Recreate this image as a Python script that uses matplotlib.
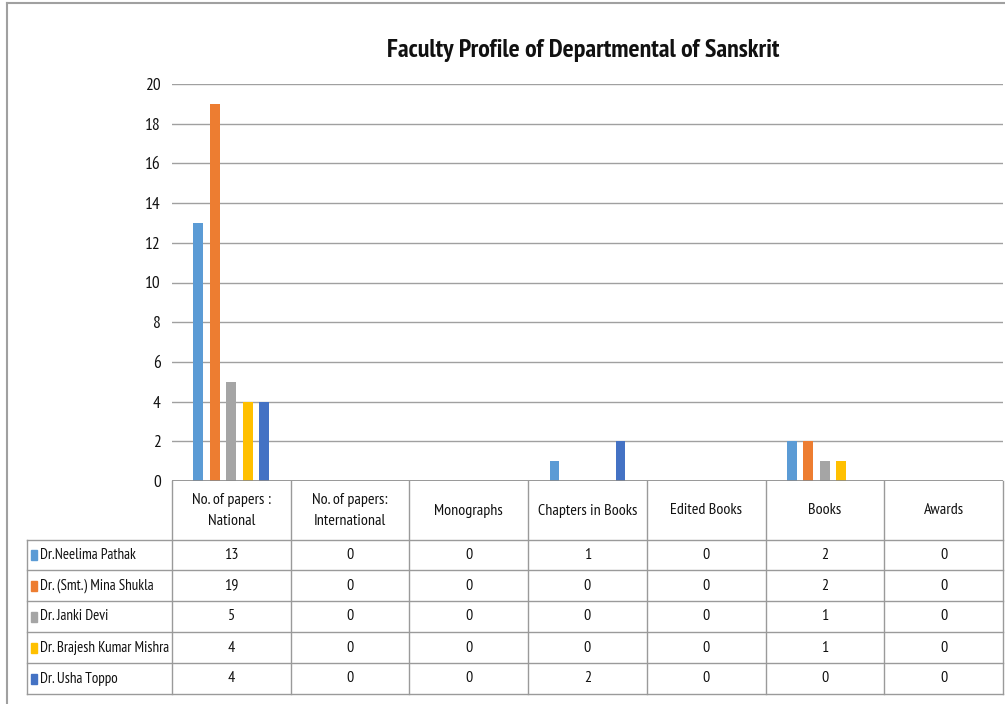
import matplotlib
matplotlib.use("Agg")
import matplotlib.pyplot as plt
import numpy as np
import logging
logging.getLogger('matplotlib.font_manager').setLevel(logging.ERROR)

categories = ["No. of papers :\nNational", "No. of papers:\nInternational", "Monographs",
              "Chapters in Books", "Edited Books", "Books", "Awards"]
series_names = ["Dr.Neelima Pathak", "Dr. (Smt.) Mina Shukla", "Dr. Janki Devi",
                "Dr. Brajesh Kumar Mishra", "Dr. Usha Toppo"]
neelima = [13, 0, 0, 1, 0, 2, 0]
mina = [19, 0, 0, 0, 0, 2, 0]
janki = [5, 0, 0, 0, 0, 1, 0]
brajesh = [4, 0, 0, 0, 0, 1, 0]
usha = [4, 0, 0, 2, 0, 0, 0]
series_values = [neelima, mina, janki, brajesh, usha]
colors = ["#5B9BD5", "#ED7D31", "#A5A5A5", "#FFC000", "#4472C4"]
yticks = [0, 2, 4, 6, 8, 10, 12, 14, 16, 18, 20]
title = "Faculty Profile of Departmental of Sanskrit"

FONT = ["PT Sans Narrow", "Archivo Narrow", "Roboto Condensed", "Open Sans Condensed", "DejaVu Sans"]
plt.rcParams['font.family'] = FONT

W, H = 1005, 704
fig = plt.figure(figsize=(W / 100, H / 100), dpi=100)

# pixel geometry
ax_l, ax_r, ax_t, ax_b = 172, 1003, 84, 481
ax = fig.add_axes([ax_l / W, 1 - ax_b / H, (ax_r - ax_l) / W, (ax_b - ax_t) / H])
n = len(categories)
x = np.arange(n)
bw = 0.084
step = 0.139
for i, (vals, c) in enumerate(zip(series_values, colors)):
    ax.bar(x + (i - 2) * step, vals, width=bw, color=c, zorder=3)
ax.set_xlim(-0.5, n - 0.5)
ax.set_ylim(0, 20)
ax.set_yticks(yticks)
ax.set_yticklabels([str(t) for t in yticks], fontsize=12.5, color="#111111")
ax.set_xticks([])
for s in ax.spines.values():
    s.set_visible(False)
ax.yaxis.grid(True, color="#a0a0a0", linewidth=1, zorder=0)
ax.tick_params(axis='y', length=0, pad=8)
ax.axhline(0, color="#8a8a8a", linewidth=1.2, zorder=4)

fig.text(583 / W, 1 - 50 / H, title, ha='center', va='center', fontsize=18.7,
         fontweight='bold', color="#111111")

# overlay for table
ov = fig.add_axes([0, 0, 1, 1], zorder=5)
ov.set_xlim(0, W)
ov.set_ylim(H, 0)
ov.axis('off')
ov.patch.set_alpha(0)

lc = "#9a9a9a"
# outer border of chart area
ov.plot([7, 1005], [3, 3], color="#a0a0a0", lw=1.5)
ov.plot([7, 7], [3, 704], color="#a0a0a0", lw=1.5)

col_edges = np.linspace(ax_l, ax_r, n + 1)
row_edges = [481, 540, 570, 601, 632, 663, 694]
tab_l = 27
for xe in col_edges:
    ov.plot([xe, xe], [481, 694], color=lc, lw=1)
ov.plot([tab_l, tab_l], [540, 694], color=lc, lw=1)
for ye in row_edges[1:]:
    ov.plot([tab_l, ax_r], [ye, ye], color=lc, lw=1)

centers = (col_edges[:-1] + col_edges[1:]) / 2
for j, cat in enumerate(categories):
    ov.text(centers[j], (row_edges[0] + row_edges[1]) / 2, cat, ha='center', va='center',
            fontsize=11.5, color="#111111", linespacing=1.6)
for i, (name, vals, c) in enumerate(zip(series_names, series_values, colors)):
    yc = (row_edges[i + 1] + row_edges[i + 2]) / 2
    ov.add_patch(plt.Rectangle((31, yc - 5), 6, 10, color=c))
    ov.text(40, yc, name, ha='left', va='center', fontsize=10.8, color="#111111")
    for j, v in enumerate(vals):
        ov.text(centers[j], yc, str(v), ha='center', va='center', fontsize=11.5, color="#111111")

fig.savefig("out.png", dpi=100)
